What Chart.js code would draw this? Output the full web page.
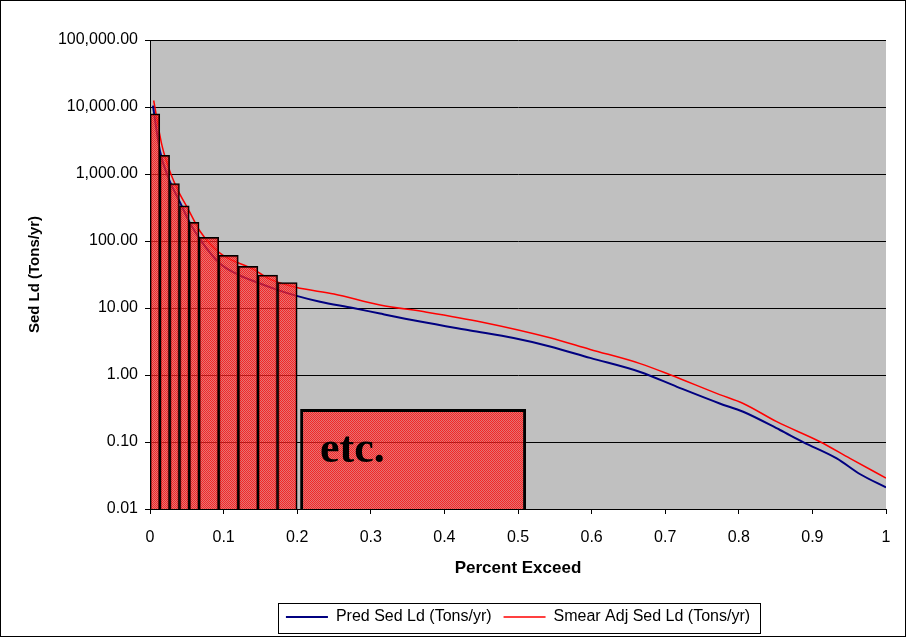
<!DOCTYPE html>
<html>
<head>
<meta charset="utf-8">
<title>Sed Ld - Percent Exceed</title>
<script src="https://cdn.jsdelivr.net/npm/chart.js@4.4.1/dist/chart.umd.min.js"></script>
<style>
body{margin:0;background:#fff;}
#container{width:906px;height:637px;}
</style>
</head>
<body>
<div id="container"><canvas id="myChart" width="906" height="637"></canvas></div>
<script>
//curve values
var predX = [0.004, 0.0136, 0.025, 0.041, 0.054, 0.068, 0.095, 0.118, 0.145, 0.172, 0.198, 0.231, 0.276, 0.3125, 0.367, 0.435, 0.494, 0.5435, 0.598, 0.666, 0.716, 0.774, 0.806, 0.856, 0.888, 0.933, 0.965, 1.0];
var predY = [10500, 2185, 879, 373, 188, 106, 46, 32.1, 24.2, 18.8, 15.3, 12.4, 10, 8.26, 6.28, 4.62, 3.56, 2.67, 1.80, 1.11, 0.666, 0.376, 0.283, 0.151, 0.099, 0.057, 0.033, 0.021];
var smearX = [0.005, 0.016, 0.027, 0.0385, 0.052, 0.068, 0.095, 0.14, 0.163, 0.198, 0.25, 0.3125, 0.376, 0.45, 0.5435, 0.598, 0.666, 0.7065, 0.774, 0.806, 0.8515, 0.9103, 0.951, 1.0];
var smearY = [12500, 2750, 1100, 556, 297, 140, 66, 38, 27, 20.4, 16.2, 11.1, 8.67, 6.2, 3.6, 2.41, 1.48, 1.01, 0.51, 0.376, 0.201, 0.101, 0.057, 0.029];
//histogram bars: edges along x and bar heights
var barEdges = [0, 0.0133, 0.0267, 0.04, 0.0533, 0.0667, 0.0933, 0.12, 0.1467, 0.1733, 0.2];
var barValues = [7900, 1900, 720, 335, 190, 113, 61, 42, 31, 24];
//the "etc." box
var etcEdges = [0.204, 0.511];
var etcValue = 0.31;
var etcLabel = {text: 'etc.', x: 0.231, y: 0.05};
//axis ticks
var xTicks = [0, 0.1, 0.2, 0.3, 0.4, 0.5, 0.6, 0.7, 0.8, 0.9, 1];
var yTicks = [0.01, 0.1, 1, 10, 100, 1000, 10000, 100000];
var seriesNames = ['Pred Sed Ld (Tons/yr)', 'Smear Adj Sed Ld (Tons/yr)'];

function toPoints(xs, ys){
  var pts = [];
  for(var i=0;i<xs.length;i++){
    pts.push({x: xs[i], y: ys[i]});
  }
  return pts;
}

//split bars into narrow and wide ones (each group gets its own hidden x axis)
var narrowBars = [], wideBars = [];
for(var i=0;i<barValues.length;i++){
  var p = {x: (barEdges[i]+barEdges[i+1])/2, y: barValues[i]};
  if(barEdges[i+1]-barEdges[i] < 0.02) narrowBars.push(p);
  else wideBars.push(p);
}

//dotted red fill like the excel pattern
function makePattern(ctx){
  var c = document.createElement('canvas');
  c.width = 2; c.height = 2;
  var g = c.getContext('2d');
  g.fillStyle = 'rgba(255,0,0,0.8)';
  g.fillRect(0,0,1,1); g.fillRect(1,1,1,1);
  g.fillStyle = 'rgba(245,80,80,0.68)';
  g.fillRect(1,0,1,1); g.fillRect(0,1,1,1);
  return ctx.createPattern(c, 'repeat');
}

Chart.defaults.font.family = '"Liberation Sans", Arial, sans-serif';
Chart.defaults.color = '#000';

var ctx = document.getElementById('myChart').getContext('2d');
var fill = makePattern(ctx);

//gray plot area, white page, outer frame
var backPlugin = {
  id: 'back',
  beforeDraw: function(chart){
    var c = chart.ctx, a = chart.chartArea;
    c.save();
    c.fillStyle = '#fff';
    c.fillRect(0, 0, chart.width, chart.height);
    c.fillStyle = '#c0c0c0';
    c.fillRect(a.left, a.top, a.right-a.left, a.bottom-a.top);
    c.restore();
  },
  afterDraw: function(chart){
    var c = chart.ctx;
    c.save();
    c.strokeStyle = '#000';
    c.lineWidth = 1;
    c.strokeRect(0.5, 0.5, chart.width-1, chart.height-1);
    //box round the legend
    var hb = chart.legend.legendHitBoxes;
    if(hb && hb.length){
      var l = hb[0].left - 8, t = hb[0].top - 6;
      var last = hb[hb.length-1];
      var r = last.left + last.width + 10, b = hb[0].top + hb[0].height + 8;
      c.strokeRect(Math.round(l)+0.5, Math.round(t)+0.5, Math.round(r-l), Math.round(b-t));
    }
    c.restore();
  }
};

//"etc." text inside the last box
var etcPlugin = {
  id: 'etc',
  afterDatasetsDraw: function(chart){
    var c = chart.ctx;
    c.save();
    c.font = 'bold 44px "Liberation Serif", "Times New Roman", serif';
    c.fillStyle = '#000';
    c.textBaseline = 'alphabetic';
    c.textAlign = 'left';
    c.fillText(etcLabel.text, chart.scales.x.getPixelForValue(etcLabel.x), chart.scales.y.getPixelForValue(etcLabel.y));
    c.restore();
  }
};

//hidden x axes for the bars, same range as the real one, no offset, only end ticks
function hiddenAxis(){
  return {
    type: 'linear', min: 0, max: 1, display: false, offset: false,
    grid: {offset: false},
    afterBuildTicks: function(s){ s.ticks = [{value: 0}, {value: 1}]; }
  };
}

var myChart = new Chart(ctx, {
  type: 'line',
  data: {
    datasets: [{
      label: seriesNames[0],
      data: toPoints(predX, predY),
      borderColor: '#000080',
      borderWidth: 2,
      pointRadius: 0,
      cubicInterpolationMode: 'monotone',
      order: 1
    }, {
      label: seriesNames[1],
      data: toPoints(smearX, smearY),
      borderColor: '#ff0000',
      borderWidth: 1.5,
      pointRadius: 0,
      cubicInterpolationMode: 'monotone',
      order: 1
    }, {
      type: 'bar',
      label: 'narrow',
      data: narrowBars,
      xAxisID: 'xb1',
      backgroundColor: fill,
      borderColor: '#000',
      borderWidth: 1.5,
      barPercentage: 1,
      categoryPercentage: 1,
      grouped: false,
      order: 0
    }, {
      type: 'bar',
      label: 'wide',
      data: wideBars,
      xAxisID: 'xb2',
      backgroundColor: fill,
      borderColor: '#000',
      borderWidth: 1.5,
      barPercentage: 1,
      categoryPercentage: 1,
      grouped: false,
      order: 0
    }, {
      type: 'bar',
      label: 'etc',
      data: [{x: (etcEdges[0]+etcEdges[1])/2, y: etcValue}],
      xAxisID: 'xb3',
      backgroundColor: fill,
      borderColor: '#000',
      borderWidth: 3,
      barPercentage: (etcEdges[1]-etcEdges[0]),
      categoryPercentage: 1,
      grouped: false,
      order: 0
    }]
  },
  options: {
    responsive: false,
    animation: false,
    layout: {padding: {left: 8, right: 20, top: 40, bottom: 2}},
    plugins: {
      tooltip: {enabled: false},
      legend: {
        position: 'bottom',
        fullSize: false,
        labels: {
          filter: function(item){ return item.datasetIndex < 2; },
          usePointStyle: true,
          pointStyle: 'line',
          pointStyleWidth: 42,
          padding: 12,
          font: {size: 16},
          color: '#000'
        }
      }
    },
    scales: {
      x: {
        type: 'linear',
        min: 0,
        max: 1,
        offset: false,
        afterBuildTicks: function(s){ s.ticks = xTicks.map(function(v){ return {value: v}; }); },
        afterFit: function(s){ s.height = 88; },
        ticks: {
          font: {size: 16},
          padding: 14,
          maxRotation: 0,
          callback: function(v){ return String(Math.round(v*10)/10); }
        },
        grid: {drawOnChartArea: false, color: '#000', tickLength: 5},
        border: {color: '#000', width: 1},
        title: {display: true, text: 'Percent Exceed', font: {size: 17, weight: 'bold'}, padding: {bottom: 18}}
      },
      xb1: hiddenAxis(),
      xb2: hiddenAxis(),
      xb3: hiddenAxis(),
      y: {
        type: 'logarithmic',
        min: 0.01,
        max: 100000,
        afterBuildTicks: function(s){ s.ticks = yTicks.map(function(v){ return {value: v}; }); },
        afterFit: function(s){ s.width = 142; },
        ticks: {
          font: {size: 16},
          padding: 7,
          autoSkip: false,
          callback: function(v){ return Number(v).toLocaleString('en-US', {minimumFractionDigits: 2, maximumFractionDigits: 2}); }
        },
        grid: {color: '#000', tickLength: 5},
        border: {color: '#000', width: 1},
        title: {display: true, text: 'Sed Ld (Tons/yr)', font: {size: 15, weight: 'bold'}, padding: {top: 18}}
      }
    }
  },
  plugins: [backPlugin, etcPlugin]
});
</script>
</body>
</html>
